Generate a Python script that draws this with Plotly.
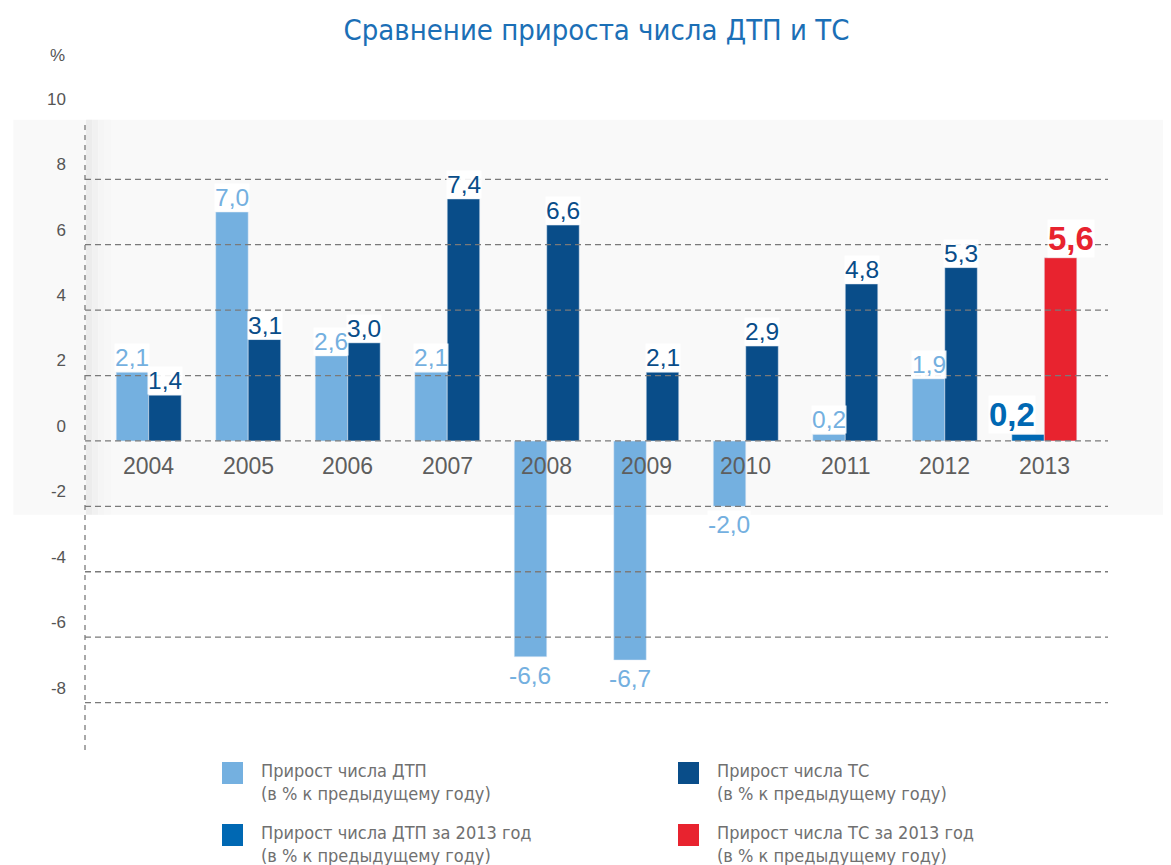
import plotly.graph_objects as go

years = ["2004", "2005", "2006", "2007", "2008", "2009", "2010", "2011", "2012", "2013"]
dtp = [2.1, 7.0, 2.6, 2.1, -6.6, -6.7, -2.0, 0.2, 1.9, 0.2]
tc = [1.4, 3.1, 3.0, 7.4, 6.6, 2.1, 2.9, 4.8, 5.3, 5.6]
highlight_year = "2013"
y_ticks = [-8, -6, -4, -2, 0, 2, 4, 6, 8, 10]
grid_vals = [-8, -6, -4, -2, 0, 2, 4, 6, 8]

title = "Сравнение прироста числа ДТП и ТС"
legend_names = [
    "Прирост числа ДТП<br>(в % к предыдущему году)",
    "Прирост числа ТС<br>(в % к предыдущему году)",
    "Прирост числа ДТП за 2013 год<br>(в % к предыдущему году)",
    "Прирост числа ТС за 2013 год<br>(в % к предыдущему году)",
]

C_DTP = "#74b0e0"
C_TC = "#094d89"
C_DTP_H = "#0068b3"
C_TC_H = "#e8232f"

NUM_FONT = "Liberation Sans, Arial, sans-serif"
COND_FONT = "DejaVu Sans Condensed, Liberation Sans Narrow, sans-serif"

# plot area geometry (figure pixels)
PL, PR, PT, PB = 77, 1100, 101, 742
PW, PH = PR - PL, PB - PT


def fmt(v):
    return f"{v:.1f}".replace(".", ",")


main_idx = [i for i, y in enumerate(years) if y != highlight_year]
h_idx = [i for i, y in enumerate(years) if y == highlight_year]

fig = go.Figure()
fig.add_trace(go.Bar(x=[years[i] for i in main_idx], y=[dtp[i] for i in main_idx], name=legend_names[0],
                     marker_color=C_DTP, offsetgroup="dtp", showlegend=False))
fig.add_trace(go.Bar(x=[years[i] for i in main_idx], y=[tc[i] for i in main_idx], name=legend_names[1],
                     marker_color=C_TC, offsetgroup="tc", showlegend=False))
fig.add_trace(go.Bar(x=[years[i] for i in h_idx], y=[dtp[i] for i in h_idx], name=legend_names[2],
                     marker_color=C_DTP_H, offsetgroup="dtp", showlegend=False))
fig.add_trace(go.Bar(x=[years[i] for i in h_idx], y=[tc[i] for i in h_idx], name=legend_names[3],
                     marker_color=C_TC_H, offsetgroup="tc", showlegend=False))

shapes = []
# soft background band
shapes.append(dict(type="rect", xref="paper", yref="y", x0=-0.07, x1=1.08, y0=-2.26, y1=9.82,
                   fillcolor="#f9f9f9", line_width=0, layer="below"))
for i, c in enumerate(["#ececec", "#f1f1f1", "#f5f5f5", "#f7f7f7"]):
    shapes.append(dict(type="rect", xref="paper", yref="y", x0=0.001 + i * 0.006, x1=0.007 + i * 0.006,
                       y0=-2.26, y1=9.82, fillcolor=c, line_width=0, layer="below"))
for g in grid_vals:
    shapes.append(dict(type="line", xref="paper", yref="y", x0=0, x1=1, y0=g, y1=g,
                       line=dict(color="#7a7a7a", width=1.3, dash="6px,4px"), layer="above"))
shapes.append(dict(type="line", xref="paper", yref="y", x0=0, x1=0, y0=-9.45, y1=9.66,
                   line=dict(color="#7a7a7a", width=1.3, dash="5px,5px"), layer="above"))

annotations = []
# year labels at the zero line
for i, y in enumerate(years):
    annotations.append(dict(x=i, y=0, xref="x", yref="y", text=y, showarrow=False,
                            yanchor="middle", yshift=-25,
                            font=dict(family=NUM_FONT, size=23, color="#5e5e5e")))

# value labels
for i, y in enumerate(years):
    for val, side, col, hcol in ((dtp[i], -1, C_DTP, C_DTP_H), (tc[i], 1, C_TC, C_TC_H)):
        hl = (y == highlight_year)
        if hl:
            size = 33
            xs = -32 if side < 0 else 27
            fcol = hcol
            txt = "<b>" + fmt(val) + "</b>"
        else:
            size = 24.5
            xs = side * 16.3
            fcol = col
            txt = fmt(val)
        if val >= 0:
            annotations.append(dict(x=i, y=val, xref="x", yref="y", text=txt, showarrow=False,
                                    yanchor="bottom", xshift=xs, yshift=0, bgcolor="rgba(255,255,255,0.9)",
                                    borderpad=0, font=dict(family=NUM_FONT, size=size, color=fcol)))
        else:
            annotations.append(dict(x=i, y=val, xref="x", yref="y", text=txt, showarrow=False,
                                    yanchor="top", xshift=xs, yshift=-4, bgcolor="rgba(255,255,255,0.9)",
                                    borderpad=0, font=dict(family=NUM_FONT, size=size, color=fcol)))

# percent sign
annotations.append(dict(x=-0.027, y=1.083, xref="paper", yref="paper", text="%", showarrow=False,
                        xanchor="center", yanchor="middle",
                        font=dict(family=NUM_FONT, size=17, color="#555555")))

# manual legend (positions relative to the plot area, in pixels)
leg_colors = [C_DTP, C_TC, C_DTP_H, C_TC_H]
leg_dx = [137, 593, 137, 593]      # square left edge from plot left
leg_dy = [12, 12, 74, 74]          # square top below plot bottom
for name, col, dx, dy in zip(legend_names, leg_colors, leg_dx, leg_dy):
    x0 = dx / PW
    x1 = (dx + 21) / PW
    y0 = -dy / PH
    y1 = -(dy + 22) / PH
    shapes.append(dict(type="rect", xref="paper", yref="paper", x0=x0, x1=x1, y0=y0, y1=y1,
                       fillcolor=col, line_width=0))
    annotations.append(dict(x=(dx + 37) / PW, y=-(dy + 20) / PH, xref="paper", yref="paper",
                            text=name, showarrow=False, xanchor="left", yanchor="middle", align="left",
                            font=dict(family=COND_FONT, size=18, color="#707070")))

fig.update_layout(
    width=1171, height=865,
    margin=dict(l=PL, r=1171 - PR, t=PT, b=865 - PB),
    paper_bgcolor="white", plot_bgcolor="rgba(0,0,0,0)",
    barmode="group", bargap=0.347, bargroupgap=0,
    title=dict(text=title, x=0.5, xref="paper", xanchor="center", y=1 - 22 / 865, yanchor="middle",
               font=dict(family=COND_FONT, size=29, color="#1b6fb6")),
    xaxis=dict(type="category", categoryorder="array", categoryarray=years,
               range=[-0.64, 9.64], showticklabels=False, showgrid=False, zeroline=False,
               showline=False, ticks="", automargin=False),
    yaxis=dict(range=[-9.45, 10.15], tickvals=y_ticks, ticktext=[str(t) for t in y_ticks],
               showgrid=False, zeroline=False, showline=False, ticks="", automargin=False,
               ticklabelshift=-15, ticklabelstandoff=18,
               tickfont=dict(family=NUM_FONT, size=17, color="#555555")),
    shapes=shapes, annotations=annotations,
    showlegend=False,
)

fig.write_html("out.html")
